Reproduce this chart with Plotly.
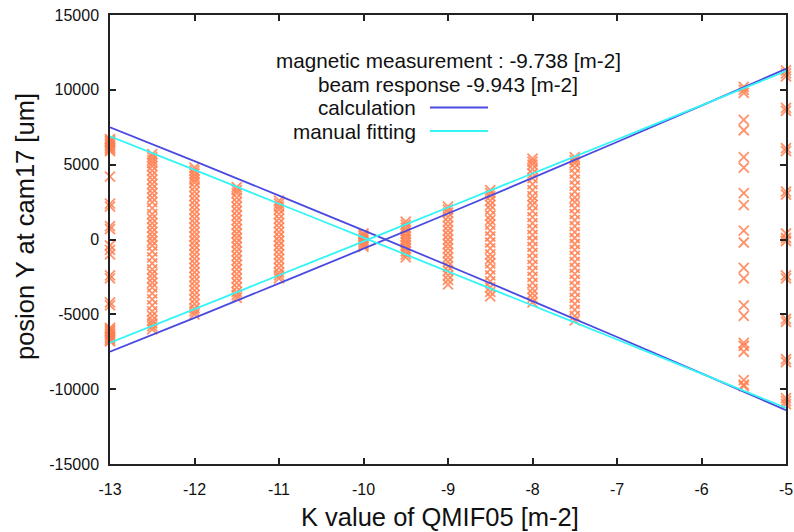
import plotly.graph_objects as go

# ---- data ----
k_columns = [-13, -12.5, -12, -11.5, -11, -10, -9.5, -9, -8.5, -8, -7.5, -5.5, -5]
y_m13 = [6700, 6600, 6500, 6400, 6300, 6200, 6100, 6000, 5900, 4200, 2400, 2200, 900, 700,
         -400, -700, -1000, -2400, -2600, -4200, -4400, -5900, -6000, -6100, -6200, -6300,
         -6400, -6500, -6600, -6700, -6800]
y_m12_5 = [5700, 5500, 5300, 5100, 4900, 4600, 4300, 4000, 3700, 3400, 3100, 2800, 2500, 2100,
           1700, 1400, 1100, 800, 500, 200, -100, -400, -800, -1200, -1600, -2000, -2300, -2600,
           -2900, -3200, -3600, -4000, -4400, -4800, -5100, -5400, -5600, -5800, -6000]
y_m12 = [4800, 4600, 4400, 4200, 4000, 3800, 3500, 3200, 2900, 2600, 2300, 2000, 1700, 1400,
         1100, 800, 500, 200, -100, -400, -700, -1000, -1300, -1600, -1900, -2200, -2500, -2800,
         -3100, -3400, -3700, -4000, -4300, -4600, -4800, -5000]
y_m11_5 = [3500, 3300, 3100, 2800, 2500, 2200, 1900, 1600, 1300, 1000, 700, 400, 100, -200, -500,
           -800, -1100, -1400, -1700, -2000, -2300, -2600, -2900, -3200, -3500, -3700, -3900]
y_m11 = [2600, 2400, 2200, 2000, 1700, 1400, 1100, 800, 500, 200, -100, -400, -700, -1000,
         -1300, -1600, -1900, -2200, -2400, -2600]
y_m10 = [400, 250, 100, -50, -200, -350, -500]
y_m9_5 = [1200, 1000, 800, 600, 400, 200, 0, -200, -400, -600, -800, -1000, -1200]
y_m9 = [2200, 2000, 1800, 1500, 1200, 900, 600, 300, 0, -300, -600, -900, -1200, -1500, -1800,
        -2100, -2400, -2700, -3000]
y_m8_5 = [3300, 3100, 2900, 2600, 2300, 2000, 1600, 1300, 1000, 600, 200, -200, -600, -1000,
          -1300, -1600, -2000, -2400, -2800, -3200, -3500, -3800]
y_m8 = [5400, 5200, 5000, 4700, 4400, 4100, 3700, 3300, 2900, 2600, 2300, 1900, 1500, 1100, 700,
        300, -100, -500, -900, -1300, -1700, -2100, -2500, -2900, -3300, -3600, -3900, -4200]
y_m7_5 = [5500, 5300, 5100, 4800, 4400, 4000, 3600, 3200, 2800, 2500, 2100, 1700, 1300, 900, 500,
          100, -300, -700, -1100, -1500, -1900, -2300, -2700, -3100, -3500, -3900, -4300, -4700,
          -5100, -5400]
y_m5_5 = [10200, 10000, 9800, 8000, 7300, 5500, 4800, 3100, 2300, 600, -200, -1900, -2600, -4400,
          -5100, -6900, -7100, -7500, -9400, -9700, -9800]
y_m5 = [11300, 11100, 10900, 8800, 8600, 6100, 5900, 3200, 3000, 400, 100, -100, -2400, -2600,
        -5300, -5500, -8000, -8200, -10600, -10800, -11000]
column_values = [y_m13, y_m12_5, y_m12, y_m11_5, y_m11, y_m10, y_m9_5, y_m9, y_m8_5, y_m8,
                 y_m7_5, y_m5_5, y_m5]

line_k = [-13, -12, -11, -10, -9, -8, -7, -6, -5]
calc_upper = [7500, 5231, 2936, 613, -1736, -4113, -6515, -8945, -11402]
calc_lower = [-7500, -5231, -2936, -613, 1736, 4113, 6515, 8945, 11402]
fit_upper = [6899, 4647, 2390, 129, -2137, -4408, -6683, -8964, -11248]
fit_lower = [-6899, -4647, -2390, -129, 2137, 4408, 6683, 8964, 11248]

x_ticks = [-13, -12, -11, -10, -9, -8, -7, -6, -5]
x_ticktext = ["-13", "-12", "-11", "-10", "-9", "-8", "-7", "-6", "-5"]
y_ticks = [-15000, -10000, -5000, 0, 5000, 10000, 15000]
y_ticktext = ["-15000", "-10000", "-5000", "0", "5000", "10000", "15000"]

title_lines = ["magnetic measurement : -9.738 [m-2]", "beam response -9.943 [m-2]"]
key_labels = ["calculation", "manual fitting"]
calc_color = "#4a4ae0"
fit_color = "#33f5f5"
marker_color = "#ff7f50"

# ---- figure ----
xs, ys = [], []
for k, vals in zip(k_columns, column_values):
    xs += [k] * len(vals)
    ys += vals

fig = go.Figure()
fig.add_trace(go.Scatter(
    x=xs, y=ys, mode="markers", cliponaxis=False, showlegend=False,
    marker=dict(symbol="x-thin-open", size=10, color=marker_color, opacity=0.85,
                line=dict(color=marker_color, width=1.8)),
))
for yv, col in [(calc_upper, calc_color), (calc_lower, calc_color),
                (fit_upper, fit_color), (fit_lower, fit_color)]:
    fig.add_trace(go.Scatter(x=line_k, y=yv, mode="lines", showlegend=False,
                             line=dict(color=col, width=1.8, shape="spline")))

tick_font = dict(family="Liberation Sans, Arial", size=16, color="#111")
fig.update_xaxes(range=[-13, -5], tickvals=x_ticks, ticktext=x_ticktext, ticks="inside",
                 ticklen=6, tickwidth=1.5, tickcolor="#222", showline=True, linecolor="#222",
                 linewidth=1.5, mirror="allticks", showgrid=False, zeroline=False,
                 tickfont=tick_font, ticklabelstandoff=10, automargin=False)
fig.update_yaxes(range=[-15000, 15000], tickvals=y_ticks, ticktext=y_ticktext, ticks="inside",
                 ticklen=6, tickwidth=1.5, tickcolor="#222", showline=True, linecolor="#222",
                 linewidth=1.5, mirror="allticks", showgrid=False, zeroline=False,
                 tickfont=tick_font, ticklabelstandoff=6, automargin=False)

L, R, T, B = 110, 8, 15, 68
W, H = 794, 532
pw, ph = W - L - R, H - T - B

def px(xp):
    return (xp - L) / pw

def py(yp):
    return (H - B - yp) / ph

ann_font = dict(family="Liberation Sans, Arial", size=20.7, color="#111")
annotations = [
    dict(text="K value of QMIF05 [m-2]", x=px(440), y=py(517), xref="paper", yref="paper",
         showarrow=False, xanchor="center", yanchor="middle",
         font=dict(family="Liberation Sans, Arial", size=25.5, color="#111")),
    dict(text="posion Y at cam17 [um]", x=px(25), y=py(227), xref="paper", yref="paper",
         showarrow=False, xanchor="center", yanchor="middle", textangle=-90,
         font=dict(family="Liberation Sans, Arial", size=25.5, color="#111")),
    dict(text=title_lines[0], x=px(448), y=py(60), xref="paper", yref="paper", showarrow=False,
         xanchor="center", yanchor="middle", font=ann_font),
    dict(text=title_lines[1], x=px(448), y=py(84), xref="paper", yref="paper", showarrow=False,
         xanchor="center", yanchor="middle", font=ann_font),
    dict(text=key_labels[0], x=px(418), y=py(107), xref="paper", yref="paper", showarrow=False,
         xanchor="right", yanchor="middle", font=ann_font),
    dict(text=key_labels[1], x=px(418), y=py(131), xref="paper", yref="paper", showarrow=False,
         xanchor="right", yanchor="middle", font=ann_font),
]
shapes = [
    dict(type="line", xref="paper", yref="paper", x0=px(430), x1=px(488), y0=py(107.5),
         y1=py(107.5), line=dict(color=calc_color, width=1.8)),
    dict(type="line", xref="paper", yref="paper", x0=px(430), x1=px(488), y0=py(131),
         y1=py(131), line=dict(color=fit_color, width=1.8)),
]

fig.update_layout(width=W, height=H, margin=dict(l=L, r=R, t=T, b=B),
                  paper_bgcolor="white", plot_bgcolor="white",
                  annotations=annotations, shapes=shapes, showlegend=False)

fig.write_html("out.html")
